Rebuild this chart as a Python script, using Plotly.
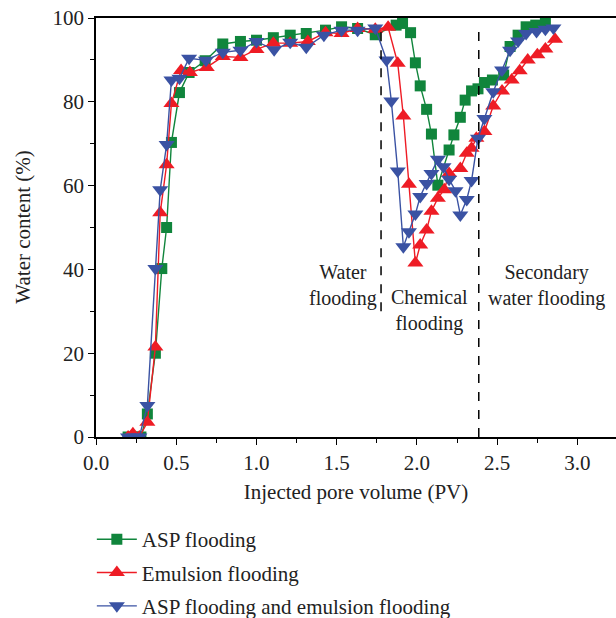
import plotly.graph_objects as go

# Injected pore volume (PV) and water content (%) for each flooding scheme
asp_pv = [0.20, 0.25, 0.28, 0.32, 0.37, 0.41, 0.44, 0.47, 0.52, 0.58, 0.68, 0.79, 0.90, 1.00,
          1.105, 1.21, 1.31, 1.43, 1.53, 1.63, 1.74, 1.87, 1.91, 1.96, 1.99, 2.02, 2.06, 2.09,
          2.13, 2.20, 2.23, 2.27, 2.30, 2.34, 2.38, 2.42, 2.47, 2.54, 2.58, 2.63, 2.68, 2.74, 2.80]
asp_wc = [0.0, 0.0, 0.0, 5.5, 20.0, 40.2, 50.0, 70.3, 82.2, 87.0, 89.8, 93.8, 94.4, 94.7,
          95.3, 95.9, 96.3, 97.1, 97.9, 97.5, 96.0, 98.3, 98.7, 96.5, 89.3, 83.8, 78.2, 72.3,
          60.1, 68.5, 72.1, 76.3, 80.4, 82.6, 83.1, 84.6, 85.2, 86.4, 93.2, 95.9, 97.9, 98.3, 98.9]

emu_pv = [0.20, 0.23, 0.27, 0.32, 0.37, 0.40, 0.44, 0.47, 0.53, 0.585, 0.69, 0.79, 0.90, 1.00,
          1.105, 1.21, 1.32, 1.43, 1.53, 1.63, 1.74, 1.82, 1.88, 1.915, 1.95, 1.99, 2.02, 2.06,
          2.09, 2.13, 2.17, 2.20, 2.27, 2.31, 2.34, 2.37, 2.42, 2.475, 2.53, 2.59, 2.64, 2.69,
          2.75, 2.80, 2.86]
emu_wc = [0.0, 0.8, 0.0, 3.5, 21.5, 53.5, 65.0, 79.6, 87.5, 87.0, 88.2, 90.8, 90.6, 92.5,
          94.0, 94.0, 94.4, 96.5, 96.3, 97.5, 97.3, 97.8, 89.2, 76.6, 60.3, 41.5, 45.8, 49.4,
          53.9, 57.0, 59.0, 62.9, 64.1, 67.7, 68.9, 71.3, 72.9, 79.0, 82.6, 85.2, 87.4, 90.0,
          91.2, 92.6, 94.9]

combo_pv = [0.20, 0.24, 0.27, 0.32, 0.37, 0.40, 0.44, 0.47, 0.52, 0.58, 0.685, 0.79, 0.90, 1.00,
            1.11, 1.21, 1.31, 1.42, 1.53, 1.63, 1.74, 1.81, 1.84, 1.88, 1.915, 1.95, 1.99, 2.02,
            2.06, 2.09, 2.13, 2.165, 2.20, 2.24, 2.27, 2.31, 2.34, 2.38, 2.42, 2.475, 2.53, 2.58,
            2.63, 2.68, 2.745, 2.80, 2.85]
combo_wc = [0.0, 0.0, 0.0, 7.5, 40.2, 59.0, 69.8, 85.2, 85.6, 90.4, 89.9, 91.8, 92.3, 94.4,
            92.4, 94.2, 93.0, 95.9, 97.1, 97.1, 97.6, 90.0, 80.2, 63.5, 45.4, 49.0, 53.2, 57.4,
            60.5, 62.9, 66.3, 64.5, 61.5, 58.8, 53.0, 56.7, 61.2, 71.3, 76.0, 82.4, 87.6, 92.3,
            94.5, 96.3, 96.8, 97.3, 97.6]

# Stage boundaries (PV) and stage labels
stage_bounds = [1.776, 2.385]
stage_labels = ["Water<br>flooding", "Chemical<br>flooding", "Secondary<br>water flooding"]
stage_label_x = [1.54, 2.08, 2.81]
stage_label_y = [36.2, 30.2, 36.2]

FONT = "Liberation Serif"
FS = 21
GREEN = "#10853c"
RED = "#ee1c25"
BLUE = "#3a52a3"
TXT = "#222"

fig = go.Figure()

series = [
    ("ASP flooding", asp_pv, asp_wc, GREEN, "square", 11),
    ("Emulsion flooding", emu_pv, emu_wc, RED, "triangle-up", 14),
    ("ASP flooding and emulsion flooding", combo_pv, combo_wc, BLUE, "triangle-down", 14),
]
for i, (name, xs, ys, col, sym, sz) in enumerate(series):
    fig.add_trace(go.Scatter(
        x=xs, y=ys, name=name, mode="lines+markers",
        line=dict(color=col, width=1.4),
        marker=dict(symbol=sym, size=sz, color=col, line=dict(width=0)),
        legendgroup=f"g{i}",
    ))

# Dashed stage separators
fig.add_shape(type="line", x0=stage_bounds[0], x1=stage_bounds[0], y0=30, y1=97.5,
              line=dict(color="black", width=1.5, dash="dash"))
fig.add_shape(type="line", x0=stage_bounds[1], x1=stage_bounds[1], y0=0, y1=97.5,
              line=dict(color="black", width=1.5, dash="dash"))

for txt, lx, ly in zip(stage_labels, stage_label_x, stage_label_y):
    fig.add_annotation(x=lx, y=ly, text=txt, showarrow=False,
                       font=dict(family=FONT, size=FS - 1, color=TXT),
                       xanchor="center", yanchor="middle")

# Y-axis title placed as a rotated annotation
fig.add_annotation(xref="paper", yref="paper", x=-0.142, y=0.5, text="Water content (%)",
                   textangle=-90, showarrow=False, xanchor="center", yanchor="middle",
                   font=dict(family=FONT, size=FS, color=TXT))

fig.update_xaxes(
    range=[0, 3.24], tickvals=[0, 0.5, 1.0, 1.5, 2.0, 2.5, 3.0],
    ticktext=["0.0", "0.5", "1.0", "1.5", "2.0", "2.5", "3.0"], tickangle=0,
    ticks="outside", ticklen=6, tickwidth=1.3, tickcolor="black",
    minor=dict(tickvals=[0.25, 0.75, 1.25, 1.75, 2.25, 2.75, 3.25], ticks="outside",
               ticklen=4, tickwidth=1.1, tickcolor="black"),
    showline=True, linecolor="black", linewidth=1.5, mirror=True,
    showgrid=False, zeroline=False,
    title=dict(text="Injected pore volume (PV)", font=dict(family=FONT, size=FS, color=TXT),
               standoff=10),
    tickfont=dict(family=FONT, size=FS, color=TXT),
)
fig.update_yaxes(
    range=[0, 100], tickvals=[0, 20, 40, 60, 80, 100],
    ticks="outside", ticklen=6, tickwidth=1.3, tickcolor="black",
    minor=dict(tickvals=[10, 30, 50, 70, 90], ticks="outside", ticklen=4,
               tickwidth=1.1, tickcolor="black"),
    showline=True, linecolor="black", linewidth=1.5,
    showgrid=False, zeroline=False,
    tickfont=dict(family=FONT, size=FS, color=TXT),
)

fig.update_layout(
    width=616, height=618,
    margin=dict(l=96, r=0, t=18, b=181, autoexpand=False),
    plot_bgcolor="white", paper_bgcolor="white",
    font=dict(family=FONT, color=TXT),
    legend=dict(
        x=-0.008, y=-0.196, xanchor="left", yanchor="top", orientation="v",
        font=dict(family=FONT, size=FS, color=TXT),
        tracegroupgap=3, itemwidth=40, bgcolor="rgba(0,0,0,0)",
    ),
    showlegend=True,
)

fig.write_html("out.html")
